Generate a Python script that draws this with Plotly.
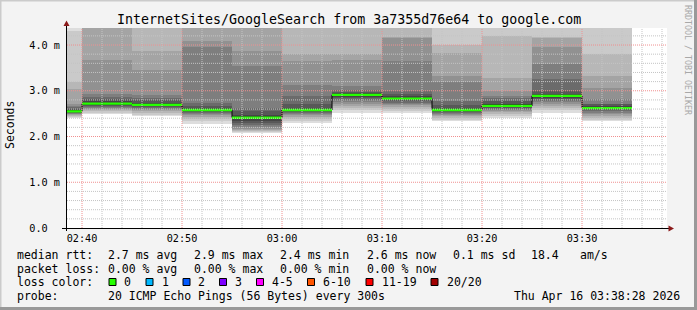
import plotly.graph_objects as go
import pandas as pd

# ---------------- data ----------------
bin_start = ["2026-04-16 02:35", "2026-04-16 02:40", "2026-04-16 02:45", "2026-04-16 02:50",
             "2026-04-16 02:55", "2026-04-16 03:00", "2026-04-16 03:05", "2026-04-16 03:10",
             "2026-04-16 03:15", "2026-04-16 03:20", "2026-04-16 03:25", "2026-04-16 03:30"]
median_rtt = [2.55, 2.72, 2.69, 2.58, 2.41, 2.58, 2.91, 2.83, 2.58, 2.67, 2.89, 2.62]

# 20 sorted ping times (ms) per 5-minute step
pings_0235 = [2.41, 2.43, 2.45, 2.47, 2.49, 2.50, 2.51, 2.52, 2.53, 2.54, 2.56, 2.58, 2.61, 2.64, 2.66, 2.70, 3.03, 3.20, 4.30, 4.60]
pings_0240 = [2.49, 2.52, 2.55, 2.58, 2.60, 2.62, 2.64, 2.66, 2.68, 2.70, 2.74, 2.78, 2.83, 2.87, 2.92, 3.68, 4.50, 4.60, 4.80, 5.00]
pings_0245 = [2.44, 2.48, 2.52, 2.55, 2.58, 2.61, 2.63, 2.65, 2.67, 2.68, 2.70, 2.74, 2.79, 2.84, 2.90, 3.46, 3.86, 4.50, 4.70, 5.00]
pings_0250 = [2.28, 2.33, 2.38, 2.42, 2.46, 2.49, 2.52, 2.54, 2.56, 2.57, 2.59, 2.62, 2.66, 2.74, 3.95, 4.08, 4.50, 4.70, 4.90, 5.10]
pings_0255 = [2.07, 2.09, 2.11, 2.14, 2.17, 2.21, 2.25, 2.30, 2.35, 2.39, 2.45, 2.48, 2.55, 2.63, 3.54, 3.88, 4.50, 4.70, 4.90, 5.10]
pings_0300 = [2.30, 2.35, 2.39, 2.43, 2.46, 2.49, 2.51, 2.53, 2.55, 2.57, 2.59, 2.63, 2.70, 2.88, 3.12, 3.65, 3.81, 4.50, 4.70, 4.90]
pings_0305 = [2.52, 2.57, 2.62, 2.67, 2.72, 2.76, 2.80, 2.84, 2.87, 2.90, 2.93, 2.95, 2.97, 3.02, 3.11, 3.68, 3.81, 4.50, 4.70, 4.90]
pings_0310 = [2.52, 2.56, 2.60, 2.64, 2.68, 2.71, 2.74, 2.77, 2.80, 2.82, 2.84, 2.88, 2.93, 2.99, 3.65, 4.15, 4.17, 4.50, 4.70, 4.90]
pings_0315 = [2.33, 2.37, 2.41, 2.44, 2.47, 2.50, 2.52, 2.54, 2.56, 2.57, 2.59, 2.63, 2.69, 2.77, 3.19, 3.32, 3.83, 4.01, 4.50, 4.70]
pings_0320 = [2.41, 2.45, 2.49, 2.53, 2.56, 2.59, 2.61, 2.63, 2.65, 2.67, 2.69, 2.72, 2.78, 2.84, 2.88, 2.99, 3.27, 4.20, 4.60, 4.80]
pings_0325 = [2.52, 2.57, 2.62, 2.67, 2.71, 2.75, 2.78, 2.82, 2.85, 2.87, 2.90, 2.93, 2.99, 3.25, 3.59, 3.95, 4.15, 4.17, 4.60, 4.80]
pings_0330 = [2.33, 2.37, 2.41, 2.45, 2.49, 2.52, 2.55, 2.58, 2.60, 2.62, 2.64, 2.67, 2.70, 2.72, 2.83, 3.05, 3.32, 3.81, 4.60, 4.80]
all_pings = [pings_0235, pings_0240, pings_0245, pings_0250, pings_0255, pings_0300,
             pings_0305, pings_0310, pings_0315, pings_0320, pings_0325, pings_0330]

x_range = ["2026-04-16 02:38:30", "2026-04-16 03:38:30"]
y_range = [0, 4.372]
x_tickvals = ["2026-04-16 02:40", "2026-04-16 02:50", "2026-04-16 03:00",
              "2026-04-16 03:10", "2026-04-16 03:20", "2026-04-16 03:30"]
x_ticktext = ["02:40", "02:50", "03:00", "03:10", "03:20", "03:30"]
y_tickvals = [0, 1, 2, 3, 4]
y_ticktext = ["0.0\u00a0\u00a0", "1.0 m", "2.0 m", "3.0 m", "4.0 m"]

title = "InternetSites/GoogleSearch from 3a7355d76e64 to google.com"
rtt_row = [("median rtt:", 16), ("2.7 ms avg", 107.3), ("2.9 ms max", 193.3), ("2.4 ms min", 279.3),
           ("2.6 ms now", 365.7), ("0.1 ms sd", 451.7), ("18.4", 530), ("am/s", 579.3)]
loss_row = [("packet loss:", 16), ("0.00 % avg", 107.3), ("0.00 % max", 193.3),
            ("0.00 % min", 279.3), ("0.00 % now", 365.7)]
loss_labels = ["0", "1", "2", "3", "4-5", "6-10", "11-19", "20/20"]
loss_colors = ["#26ff00", "#00b8ff", "#0059ff", "#7e00ff", "#ff00ff", "#ff5500", "#ff0000", "#a10000"]
loss_box_x = [109, 146, 183, 219.5, 256.5, 307.5, 366, 431]
loss_text_x = [123.3, 160.7, 197.3, 234.3, 270.7, 322.3, 380.7, 445.7]
probe_text = "20 ICMP Echo Pings (56 Bytes) every 300s"
stamp_text = "Thu Apr 16 03:38:28 2026"

# ---------------- geometry helpers ----------------
W, H = 697, 310
L, R, T, B = 67, 667, 28, 228
def xp(px):
    return (px - L) / (R - L)
def yp(py):
    return (B - py) / (B - T)

FONT = "DejaVu Sans Mono"

starts = pd.to_datetime(bin_start)
step = pd.Timedelta(minutes=5)
centers = starts + step / 2

fig = go.Figure()

# smoke bands
n = len(all_pings[0])
half = n // 2
for i in range(1, half + 1):
    g = int(190 / half * (half - i)) + 50
    base = [p[i - 1] for p in all_pings]
    top = [p[n - i] for p in all_pings]
    fig.add_trace(go.Bar(
        x=centers, y=[t - b for t, b in zip(top, base)], base=base,
        width=step.total_seconds() * 1000,
        marker=dict(color=f"rgb({g},{g},{g})", line=dict(width=0)),
        hoverinfo="skip", showlegend=False))

# black step median line
sx = list(starts) + [starts[-1] + step]
sy = list(median_rtt) + [median_rtt[-1]]
fig.add_trace(go.Scatter(x=sx, y=sy, mode="lines", line=dict(color="#000000", width=1, shape="hv"),
                         hoverinfo="skip", showlegend=False))

# green (0 loss) median segments
gx, gy = [], []
for s, m in zip(starts, median_rtt):
    gx += [s, s + step, None]
    gy += [m, m, None]
fig.add_trace(go.Scatter(x=gx, y=gy, mode="lines", line=dict(color=loss_colors[0], width=2.3),
                         hoverinfo="skip", showlegend=False))

shapes = []
# grid (drawn above the smoke, dotted)
t0 = pd.Timestamp(x_range[0]).ceil("2min")
tend = pd.Timestamp(x_range[1])
t = t0
while t <= tend:
    major = (t.minute % 10 == 0)
    shapes.append(dict(type="line", xref="x", yref="paper", x0=t, x1=t, y0=0, y1=1, layer="above",
                       line=dict(color="#f09090" if major else "#c4c4c4", width=1, dash="1px,1px")))
    t += pd.Timedelta(minutes=2)
k = 1
while k * 0.2 < y_range[1]:
    v = round(k * 0.2, 6)
    major = abs(v - round(v)) < 1e-9
    shapes.append(dict(type="line", xref="paper", yref="y", x0=0, x1=1, y0=v, y1=v, layer="above",
                       line=dict(color="#f09090" if major else "#c4c4c4", width=1, dash="1px,1px")))
    k += 1

# axis lines and arrows
shapes.append(dict(type="line", xref="paper", yref="paper", x0=xp(62), x1=xp(670), y0=yp(228.5), y1=yp(228.5),
                   line=dict(color="#000000", width=1), layer="above"))
shapes.append(dict(type="line", xref="paper", yref="paper", x0=xp(66.5), x1=xp(66.5), y0=yp(231), y1=yp(25),
                   line=dict(color="#000000", width=1), layer="above"))
shapes.append(dict(type="path", xref="paper", yref="paper",
                   path=f"M {xp(63.5)} {yp(26)} L {xp(69.5)} {yp(26)} L {xp(66.5)} {yp(20.5)} Z",
                   fillcolor="#8b1a1a", line=dict(width=0), layer="above"))
shapes.append(dict(type="path", xref="paper", yref="paper",
                   path=f"M {xp(668.5)} {yp(225.5)} L {xp(668.5)} {yp(231.5)} L {xp(674)} {yp(228.5)} Z",
                   fillcolor="#8b1a1a", line=dict(width=0), layer="above"))

# frame
shapes.append(dict(type="line", xref="paper", yref="paper", x0=xp(0), x1=xp(W), y0=yp(0.5), y1=yp(0.5),
                   line=dict(color="#cbcbcb", width=2)))
shapes.append(dict(type="line", xref="paper", yref="paper", x0=xp(0.5), x1=xp(0.5), y0=yp(0), y1=yp(H),
                   line=dict(color="#cbcbcb", width=2)))
shapes.append(dict(type="line", xref="paper", yref="paper", x0=xp(0), x1=xp(W), y0=yp(H - 1.5), y1=yp(H - 1.5),
                   line=dict(color="#999999", width=3)))
shapes.append(dict(type="line", xref="paper", yref="paper", x0=xp(W - 1.5), x1=xp(W - 1.5), y0=yp(0), y1=yp(H),
                   line=dict(color="#999999", width=3)))

# loss colour boxes
for bx, c in zip(loss_box_x, loss_colors):
    shapes.append(dict(type="rect", xref="paper", yref="paper", x0=xp(bx), x1=xp(bx + 7),
                       y0=yp(278.5), y1=yp(285.5), fillcolor=c, line=dict(color="#000000", width=1)))

annotations = []
def txt(s, px, py, size=11.5, color="#000000", anchor="left", angle=0):
    annotations.append(dict(text=s, x=xp(px), y=yp(py), xref="paper", yref="paper", showarrow=False,
                            xanchor=anchor, yanchor="middle", textangle=angle, borderpad=0,
                            font=dict(family=FONT, size=size, color=color)))

txt(title, W / 2, 19, size=13.3, anchor="center")
txt("Seconds", 10, 125, size=11.5, anchor="center", angle=-90)
txt("RRDTOOL / TOBI OETIKER", 688, 60, size=8.3, color="#a8a8a8", anchor="center", angle=90)
for s, px in rtt_row:
    txt(s, px, 255)
for s, px in loss_row:
    txt(s, px, 268.5)
txt("loss color:", 16, 282)
for s, px in zip(loss_labels, loss_text_x):
    txt(s, px, 282)
txt("probe:", 16, 295.5)
txt(probe_text, 107.3, 295.5)
txt(stamp_text, 513.3, 295.5)

fig.update_layout(
    width=W, height=H,
    margin=dict(l=L, r=W - R, t=T, b=H - B, pad=0),
    paper_bgcolor="#f3f3f3", plot_bgcolor="#ffffff",
    barmode="overlay", bargap=0,
    showlegend=False,
    shapes=shapes, annotations=annotations,
    font=dict(family=FONT, size=10.2, color="#000000"),
    xaxis=dict(type="date", range=x_range, tickvals=x_tickvals, ticktext=x_ticktext,
               showgrid=False, zeroline=False, showline=False, ticks="", ticklabelstandoff=3,
               tickfont=dict(family=FONT, size=10.2, color="#000000"), fixedrange=True),
    yaxis=dict(range=y_range, tickvals=y_tickvals, ticktext=y_ticktext,
               showgrid=False, zeroline=False, showline=False, ticks="", ticklabelstandoff=6,
               tickfont=dict(family=FONT, size=10.2, color="#000000"), fixedrange=True),
)

fig.write_html("out.html")
